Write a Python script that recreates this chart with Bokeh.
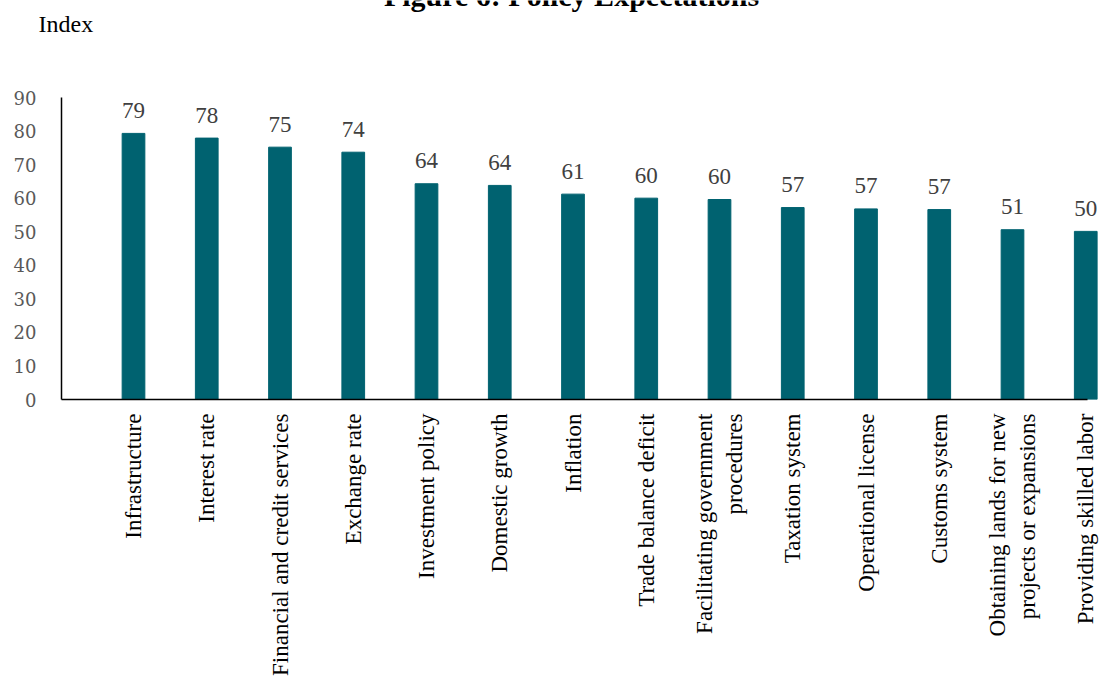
from bokeh.plotting import figure
from bokeh.models import Range1d, FixedTicker, ColumnDataSource
from bokeh.layouts import column, row
from bokeh.core.properties import value
from bokeh.embed import file_html
from bokeh.resources import INLINE
import math

title_text = "Figure 6: Policy Expectations"
y_title = "Index"
categories = [
    "Infrastructure",
    "Interest rate",
    "Financial and credit services",
    "Exchange rate",
    "Investment policy",
    "Domestic growth",
    "Inflation",
    "Trade balance deficit",
    "Facilitating government\nprocedures",
    "Taxation system",
    "Operational license",
    "Customs system",
    "Obtaining lands for new\nprojects or expansions",
    "Providing skilled labor",
]
values = [79.3, 77.9, 75.2, 73.7, 64.3, 63.8, 61.2, 60.0, 59.6, 57.2, 56.8, 56.6, 50.6, 50.1]
y_ticks = [0, 10, 20, 30, 40, 50, 60, 70, 80, 90]

idx = list(range(len(categories)))
labels = [f"{v:.0f}" for v in values]
src = ColumnDataSource(dict(x=idx, top=values, label=labels))

BAR = "#006270"
SERIF = "Liberation Serif"

# geometry (pixels)
W, H = 1102, 684
HEADER_H = 87
MAIN_H = H - HEADER_H
LEFT, TOP, BOTTOM_PANEL = 61, 10, 285
PX_PER_X = 73.25
X0 = -0.983
X_END = X0 + (W - LEFT) / PX_PER_X

# ---- header: title (cropped at the top edge as in the reference) and "Index"
hdr = figure(width=W, height=HEADER_H, output_backend="svg", toolbar_location=None,
             x_axis_type=None, y_axis_type=None,
             x_range=Range1d(0, W), y_range=Range1d(HEADER_H, 0),
             min_border_left=0, min_border_right=0, min_border_top=0, min_border_bottom=0)
hdr.grid.visible = False
hdr.outline_line_color = None
hdr.background_fill_color = "white"
hdr.border_fill_color = "white"
hdr.text(x=[571], y=[-5], text=[title_text], text_align="center", text_baseline="alphabetic",
         text_color="black", text_font=value(SERIF), text_font_size="30px",
         text_font_style="bold")
hdr.text(x=[38], y=[23], text=[y_title], text_align="left", text_baseline="alphabetic",
         text_color="black", text_font=value(SERIF), text_font_size="24px")

# ---- main chart
p = figure(
    width=W, height=MAIN_H,
    output_backend="svg", toolbar_location=None,
    x_range=Range1d(X0, X_END), y_range=Range1d(0, 90),
    min_border_left=LEFT, min_border_right=0, min_border_top=TOP,
    min_border_bottom=BOTTOM_PANEL,
)
p.outline_line_color = None
p.xgrid.grid_line_color = None
p.ygrid.grid_line_color = None
p.background_fill_color = "white"
p.border_fill_color = "white"

p.vbar(x="x", top="top", width=0.31, source=src, fill_color=BAR, line_color=BAR)
p.text(x="x", y="top", text="label", source=src, text_align="center",
       text_baseline="alphabetic", y_offset=-23, text_color="#404040",
       text_font=value(SERIF), text_font_size="23px")

# x axis
xa = p.xaxis[0]
xa.ticker = FixedTicker(ticks=idx)
xa.major_label_overrides = {i: c for i, c in enumerate(categories)}
xa.major_label_orientation = math.pi / 2
xa.major_label_text_font = SERIF
xa.major_label_text_font_size = "23px"
xa.major_label_text_color = "black"
xa.major_label_standoff = 14
xa.major_tick_line_color = None
xa.major_tick_out = 0
xa.major_tick_in = 0
xa.minor_tick_line_color = None
xa.minor_tick_out = 0
xa.axis_line_color = "black"
xa.axis_line_width = 1.5
xa.bounds = (X0, 13.02)

# y axis
ya = p.yaxis[0]
ya.ticker = FixedTicker(ticks=y_ticks)
ya.major_label_text_font = "DejaVu Serif"
ya.major_label_text_font_size = "18px"
ya.major_label_text_color = "#595959"
ya.major_label_standoff = 25
ya.major_tick_line_color = None
ya.major_tick_out = 0
ya.major_tick_in = 0
ya.minor_tick_line_color = None
ya.minor_tick_out = 0
ya.axis_line_color = "black"
ya.axis_line_width = 1.5

layout = column(row(hdr, spacing=0), p, spacing=0)
open("out.html", "w").write(file_html(layout, INLINE))
